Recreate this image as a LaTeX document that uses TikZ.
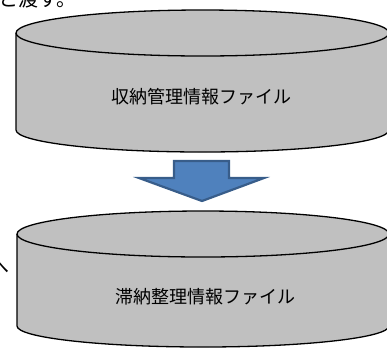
\documentclass[tikz,border=0pt]{standalone}
\usepackage{fontspec}
\newfontfamily\jpfont{Noto Sans CJK JP}
\definecolor{dbgray}{RGB}{192,192,192}
\definecolor{arrowblue}{RGB}{79,129,189}
\definecolor{arrowedge}{RGB}{56,93,138}
\begin{document}
\begin{tikzpicture}[x=1pt,y=-1pt,
        dbline/.style={draw=black,line width=1.3pt},
        label/.style={font=\jpfont\fontsize{18}{20}\selectfont,inner sep=0pt}]
        \useasboundingbox (0,0) rectangle (387,349);
        % text cut off by the page
        \node[font=\jpfont\fontsize{20}{22}\selectfont,inner sep=0pt,anchor=base west] (prev) at (-2,6) {と渡す。};
        \node[font=\jpfont\fontsize{20}{22}\selectfont,inner sep=0pt,anchor=east] (side) at (10,267) {へ};
        % upper file
        \fill[dbgray] (16,33) -- (16,130) arc[start angle=180,end angle=0,x radius=186.5,y radius=22] -- (389,33) -- cycle;
        \draw[dbline] (16,33) -- (16,130) arc[start angle=180,end angle=0,x radius=186.5,y radius=22] -- (389,33);
        \filldraw[dbline,fill=dbgray] (202.5,33) ellipse[x radius=186.5,y radius=23];
        \node[label] (upper) at (201.5,97) {収納管理情報ファイル};
        % arrow
        \filldraw[fill=arrowblue,draw=arrowedge,line width=2.2pt,line join=miter]
            (174,161) -- (229,161) -- (229,178) -- (264,178) -- (202,201) -- (139,178) -- (174,178) -- cycle;
        % lower file
        \fill[dbgray] (17,234) -- (17,326) arc[start angle=180,end angle=0,x radius=186,y radius=21] -- (389,234) -- cycle;
        \draw[dbline] (17,234) -- (17,326) arc[start angle=180,end angle=0,x radius=186,y radius=21] -- (389,234);
        \filldraw[dbline,fill=dbgray] (203,234) ellipse[x radius=186,y radius=23];
        \node[label] (lower) at (205,297) {滞納整理情報ファイル};
        \end{tikzpicture}
\end{document}
